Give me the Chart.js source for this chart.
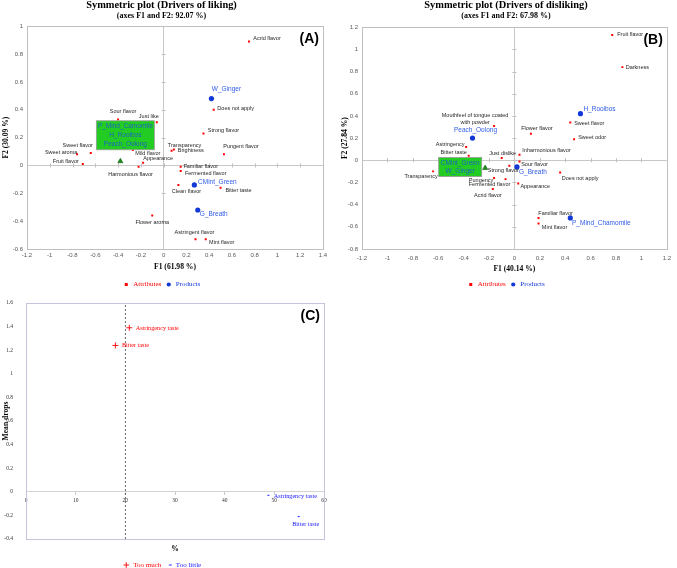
<!DOCTYPE html>
<html>
<head>
<meta charset="utf-8">
<script src="https://cdn.jsdelivr.net/npm/chart.js@4.4.0/dist/chart.umd.min.js"></script>
<style>
  body { margin: 0; background: #fff; width: 677px; height: 568px; position: relative; overflow: hidden; }
  canvas { position: absolute; }
</style>
</head>
<body>
<canvas id="chartA" width="340" height="300" style="left:0;top:0"></canvas>
<canvas id="chartB" width="337" height="300" style="left:340px;top:0"></canvas>
<canvas id="chartC" width="340" height="290" style="left:0;top:290px"></canvas>
<script>
// ---- (A) drivers of liking ----
const likAttrNames = ['Acrid flavor', 'Does not apply', 'Strong flavor', 'Sour flavor', 'Just like',
  'Sweet flavor', 'Sweet aroma', 'Fruit flavor', 'Mild flavor', 'Appearance', 'Harmonious flavor',
  'Transparency', 'Brightness', 'Pungent flavor', 'Familiar flavor', 'Fermented flavor',
  'Clean flavor', 'Bitter taste', 'Flower aroma', 'Astringent flavor', 'Mint flavor'];
const likAttrX = [0.75, 0.44, 0.35, -0.40, -0.06, -0.64, -0.76, -0.71, -0.27, -0.18, -0.22,
  0.07, 0.09, 0.53, 0.15, 0.15, 0.13, 0.50, -0.10, 0.28, 0.37];
const likAttrY = [0.89, 0.40, 0.23, 0.33, 0.31, 0.09, 0.08, 0.01, 0.11, 0.02, -0.01,
  0.105, 0.115, 0.08, -0.01, -0.04, -0.14, -0.16, -0.36, -0.53, -0.53];
const likProdNames = ['W_Ginger', 'CMint_Green', 'G_Breath'];
const likProdX = [0.42, 0.27, 0.30];
const likProdY = [0.48, -0.14, -0.32];
// products that sit on top of each other
const likGroupNames = ['P_Mind_Camomile\nH_Rooibos\nPeach_Oolong'];
const likGroupX = [-0.38];
const likGroupY = [0.03];

// ---- (B) drivers of disliking ----
const disAttrNames = ['Fruit flavor', 'Darkness', 'Sweet flavor', 'Sweet odor', 'Flower flavor',
  'Mouthfeel of tongue coated\nwith powder', 'Astringency', 'Bitter taste', 'Just dislike',
  'Inharmonious flavor', 'Sour flavor', 'Strong flavor', 'Transparency', 'Pungency',
  'Fermented flavor', 'Appearance', 'Acrid flavor', 'Does not apply', 'Familiar flavor', 'Mint flavor'];
const disAttrX = [0.77, 0.85, 0.44, 0.47, 0.13, -0.16, -0.38, -0.36, -0.10, 0.04, 0.04, -0.04,
  -0.64, -0.16, -0.07, 0.03, -0.17, 0.36, 0.19, 0.19];
const disAttrY = [1.13, 0.84, 0.34, 0.19, 0.24, 0.31, 0.12, 0.04, 0.02, 0.05, -0.01, -0.05,
  -0.10, -0.16, -0.17, -0.21, -0.26, -0.11, -0.52, -0.57];
const disProdNames = ['H_Rooibos', 'Peach_Oolong', 'G_Breath', 'P_Mind_Chamomile'];
const disProdX = [0.52, -0.33, 0.02, 0.44];
const disProdY = [0.42, 0.20, -0.06, -0.52];
const disGroupNames = ['CMint_Green\nW_Ginger'];
const disGroupX = [-0.23];
const disGroupY = [-0.07];

// ---- (C) penalty (mean drops) ----
const tooMuchNames = ['Astringency taste', 'Bitter taste'];
const tooMuchX = [20.8, 18.0];
const tooMuchY = [1.39, 1.24];
const tooLittleNames = ['Astringency taste', 'Bitter taste'];
const tooLittleX = [48.6, 54.7];
const tooLittleY = [-0.03, -0.21];
const cutoffX = [20, 20];
const cutoffY = [-0.4, 1.6];

// label placement (px from the point to the text centre)
const likAttrOffsets = [[18, -3], [22, -1], [20, -3], [5, -8], [-8, -6], [-13, -7], [-16, -2], [-17, -3],
  [15, 3], [15, -4], [-8, 8], [13, -5], [17, 1], [17, -8], [20, 0], [25, 2], [8, 7], [18, 3], [0, 7],
  [-1, -7], [16, 3]];
const likProdOffsets = [[15, -9], [23, -3], [16, 4]];
const disAttrOffsets = [[18, 0], [15, 0], [19, 1], [18, -2], [6, -5], [-19, -7], [-16, -2], [-15, -3],
  [1, -5], [27, -4], [15, 3], [-6, 5], [-12, 5], [-13, 2], [-16, 5], [17, 3], [-5, 6], [20, 6],
  [17, -4], [16, 4]];
const disProdOffsets = [[19, -4], [3, -8], [16, 5], [31, 5]];

const pts = (xs, ys) => xs.map((x, i) => ({ x: x, y: ys[i] }));
const fmt = v => (Math.round(v * 10) / 10).toString();

const SANS = '"Liberation Sans", Arial, sans-serif';
const SERIF = '"Liberation Serif", "Times New Roman", serif';
const RED = '#ff0000';
const BLUE = '#1238d8';
const BLUE_TXT = '#2f5ce6';

// text next to the points
const pointLabels = {
  id: 'pointLabels',
  afterDatasetsDraw(chart) {
    const ctx = chart.ctx;
    chart.data.datasets.forEach((ds, i) => {
      if (!ds.names) return;
      const meta = chart.getDatasetMeta(i);
      ctx.save();
      ctx.font = ds.nameFont;
      ctx.textAlign = 'center';
      ctx.textBaseline = 'middle';
      meta.data.forEach((pt, j) => {
        const off = ds.nameOffsets[j];
        const cx = pt.x + off[0], cy = pt.y + off[1];
        const lines = ds.names[j].split('\n');
        const lh = ds.nameLine || 7;
        if (ds.nameBox) {
          const b = ds.nameBox;
          ctx.fillStyle = b.fill;
          ctx.strokeStyle = b.stroke;
          ctx.lineWidth = 0.8;
          ctx.fillRect(cx - b.w / 2, cy - b.h / 2, b.w, b.h);
          ctx.strokeRect(cx - b.w / 2, cy - b.h / 2, b.w, b.h);
        }
        ctx.fillStyle = ds.nameColor;
        lines.forEach((t, k) => {
          ctx.fillText(t, cx, cy + (k - (lines.length - 1) / 2) * lh);
        });
      });
      ctx.restore();
    });
  }
};

// plot frame, small marks on the zero lines and the panel letter
const decor = {
  id: 'decor',
  beforeDatasetsDraw(chart, args, opts) {
    const { ctx, chartArea: a } = chart;
    ctx.save();
    if (opts.zeroMarks) {
      const sx = chart.scales.x, sy = chart.scales.y;
      const x0 = sx.getPixelForValue(0), y0 = sy.getPixelForValue(0);
      ctx.strokeStyle = '#bfbfbf';
      ctx.lineWidth = 1;
      ctx.beginPath();
      sx.ticks.forEach(t => {
        const px = Math.round(sx.getPixelForValue(t.value)) + 0.5;
        ctx.moveTo(px, y0 - 2); ctx.lineTo(px, y0 + 2);
      });
      sy.ticks.forEach(t => {
        const py = Math.round(sy.getPixelForValue(t.value)) + 0.5;
        ctx.moveTo(x0 - 2, py); ctx.lineTo(x0 + 2, py);
      });
      ctx.stroke();
    }
    ctx.strokeStyle = opts.frame;
    ctx.lineWidth = 1;
    ctx.strokeRect(Math.round(a.left) + 0.5, Math.round(a.top) + 0.5,
      Math.round(a.right - a.left), Math.round(a.bottom - a.top));
    ctx.fillStyle = '#000';
    ctx.font = 'bold 14px ' + SANS;
    ctx.textAlign = 'right';
    ctx.textBaseline = 'middle';
    ctx.fillText(opts.tag, a.right - 4, a.top + 13);
    ctx.restore();
  }
};

function legendLabels(chart) {
  return Chart.defaults.plugins.legend.labels.generateLabels(chart)
    .filter(l => !chart.data.datasets[l.datasetIndex].noLegend)
    .map(l => Object.assign(l, { fontColor: chart.data.datasets[l.datasetIndex].textColor }));
}

const zeroGrid = c => (c.tick && Math.abs(c.tick.value) < 1e-9) ? '#c8c8c8' : 'rgba(0,0,0,0)';
const tickFont = { family: SANS, size: 6 };
const axisTitleFont = { family: SERIF, size: 7.6, weight: 'bold' };

function symmetricPlot(canvasId, cfg) {
  return new Chart(document.getElementById(canvasId), {
    type: 'scatter',
    data: {
      datasets: [
        {
          label: 'Attributes', data: pts(cfg.attrX, cfg.attrY),
          pointStyle: 'rect', pointRadius: 1.4, backgroundColor: RED, borderColor: RED, borderWidth: 0,
          names: cfg.attrNames, nameOffsets: cfg.attrOffsets, nameFont: '5.5px ' + SANS,
          nameColor: '#262626', nameLine: 7, textColor: RED
        },
        {
          label: 'Products', data: pts(cfg.prodX, cfg.prodY),
          pointStyle: 'circle', pointRadius: 2.6, backgroundColor: BLUE, borderColor: BLUE, borderWidth: 0,
          names: cfg.prodNames, nameOffsets: cfg.prodOffsets, nameFont: '6.5px ' + SANS,
          nameColor: BLUE_TXT, textColor: BLUE
        },
        {
          label: 'Group', data: pts(cfg.groupX, cfg.groupY), noLegend: true,
          pointStyle: 'triangle', pointRadius: 3, backgroundColor: '#1c8a1c', borderColor: '#136313', borderWidth: 0.6,
          names: cfg.groupNames, nameOffsets: [cfg.groupOffset], nameFont: '6.5px ' + SANS,
          nameColor: '#1f63c4', nameLine: cfg.groupLine,
          nameBox: { fill: '#22cc22', stroke: '#9a9a9a', w: cfg.groupBox[0], h: cfg.groupBox[1] }
        }
      ]
    },
    options: {
      responsive: false,
      animation: false,
      layout: { padding: { left: 0, right: cfg.padRight, top: 0, bottom: 2 } },
      plugins: {
        title: {
          display: true, text: cfg.title, color: '#000',
          font: { family: SERIF, size: 10.4, weight: 'bold', lineHeight: 1 },
          padding: { top: 0.5, bottom: 0 }
        },
        subtitle: {
          display: true, text: cfg.subtitle, color: '#000',
          font: { family: SERIF, size: 8, weight: 'bold' },
          padding: { top: 0, bottom: cfg.subPad }
        },
        legend: {
          position: 'bottom',
          labels: {
            usePointStyle: true, boxHeight: 3, padding: 4,
            font: { family: SERIF, size: 7 }, generateLabels: legendLabels
          }
        },
        tooltip: { enabled: false },
        decor: { frame: '#bfbfbf', zeroMarks: true, tag: cfg.tag }
      },
      scales: {
        x: {
          type: 'linear', min: cfg.xMin, max: cfg.xMax,
          ticks: { stepSize: 0.2, font: tickFont, color: '#595959', padding: cfg.xTickPad, callback: fmt, maxRotation: 0, autoSkip: false },
          grid: { color: zeroGrid, drawTicks: false },
          border: { display: false },
          title: { display: true, text: cfg.xTitle, color: '#000', font: axisTitleFont, padding: { top: 0, bottom: cfg.xTitlePad } },
          afterFit: s => { s.height = 28; }
        },
        y: {
          type: 'linear', min: cfg.yMin, max: cfg.yMax,
          ticks: { stepSize: 0.2, font: tickFont, color: '#595959', padding: 4, callback: fmt, autoSkip: false },
          grid: { color: zeroGrid, drawTicks: false },
          border: { display: false },
          title: { display: true, text: cfg.yTitle, color: '#000', font: axisTitleFont, padding: { top: cfg.yTitlePad, bottom: 0 } },
          afterFit: s => { s.width = cfg.yWidth; }
        }
      }
    },
    plugins: [decor, pointLabels]
  });
}

symmetricPlot('chartA', {
  title: 'Symmetric plot (Drivers of liking)', subtitle: '(axes F1 and F2: 92.07 %)', tag: '(A)',
  xTitle: 'F1 (61.98 %)', yTitle: 'F2 (30.09 %)',
  xMin: -1.2, xMax: 1.4, yMin: -0.6, yMax: 1,
  attrNames: likAttrNames, attrX: likAttrX, attrY: likAttrY, attrOffsets: likAttrOffsets,
  prodNames: likProdNames, prodX: likProdX, prodY: likProdY, prodOffsets: likProdOffsets,
  groupNames: likGroupNames, groupX: likGroupX, groupY: likGroupY,
  groupOffset: [5, -26], groupBox: [58, 29], groupLine: 9,
  padRight: 17, subPad: 5.7, xTickPad: 3, xTitlePad: 5.4, yTitlePad: 1, yWidth: 27
});

symmetricPlot('chartB', {
  title: 'Symmetric plot (Drivers of disliking)', subtitle: '(axes F1 and F2: 67.98 %)', tag: '(B)',
  xTitle: 'F1 (40.14 %)', yTitle: 'F2 (27.84 %)',
  xMin: -1.2, xMax: 1.2, yMin: -0.8, yMax: 1.2,
  attrNames: disAttrNames, attrX: disAttrX, attrY: disAttrY, attrOffsets: disAttrOffsets,
  prodNames: disProdNames, prodX: disProdX, prodY: disProdY, prodOffsets: disProdOffsets,
  groupNames: disGroupNames, groupX: disGroupX, groupY: disGroupY,
  groupOffset: [-25, -1], groupBox: [43, 19], groupLine: 8,
  padRight: 5, subPad: 6.7, xTickPad: 6, xTitlePad: 3.4, yTitlePad: 0, yWidth: 22
});

// (C) mean drops vs % of consumers
new Chart(document.getElementById('chartC'), {
  type: 'scatter',
  data: {
    datasets: [
      {
        label: 'Too much', data: pts(tooMuchX, tooMuchY),
        pointStyle: 'cross', pointRadius: 3, borderColor: RED, backgroundColor: RED, borderWidth: 0.9,
        names: tooMuchNames, nameOffsets: [[28, 1], [20, 0]], nameFont: '6.2px ' + SERIF,
        nameColor: RED, textColor: RED
      },
      {
        label: 'Too little', data: pts(tooLittleX, tooLittleY),
        pointStyle: 'dash', pointRadius: 2, borderColor: '#2020ff', backgroundColor: '#2020ff', borderWidth: 1,
        names: tooLittleNames, nameOffsets: [[28, 1], [8, 8]], nameFont: '6.2px ' + SERIF,
        nameColor: '#2020ff', textColor: '#2020ff'
      },
      {
        label: 'cutoff', data: pts(cutoffX, cutoffY), noLegend: true, showLine: true,
        pointRadius: 0, borderColor: '#444', borderWidth: 0.8, borderDash: [2, 2]
      }
    ]
  },
  options: {
    responsive: false,
    animation: false,
    layout: { padding: { left: 0, right: 16, top: 13, bottom: 1.5 } },
    plugins: {
      legend: {
        position: 'bottom',
        labels: {
          usePointStyle: true, boxHeight: 4, padding: 4,
          font: { family: SERIF, size: 7 }, generateLabels: legendLabels
        }
      },
      tooltip: { enabled: false },
      decor: { frame: '#c4c4dc', zeroMarks: false, tag: '(C)' }
    },
    scales: {
      x: {
        type: 'linear', min: 0, max: 60, position: { y: 0 },
        ticks: { stepSize: 10, font: { family: SERIF, size: 5.5 }, color: '#333', padding: 2, maxRotation: 0 },
        grid: { drawOnChartArea: false, drawTicks: true, tickLength: 3, color: '#c8c8c8' },
        border: { color: '#d4d4d4' }
      },
      x2: {
        type: 'linear', position: 'bottom', min: 0, max: 60,
        ticks: { display: false }, grid: { display: false }, border: { display: false },
        title: { display: true, text: '%', color: '#000', font: axisTitleFont, padding: { top: 0, bottom: 3.9 } },
        afterFit: s => { s.height = 18.5; }
      },
      y: {
        type: 'linear', min: -0.4, max: 1.6,
        ticks: { stepSize: 0.2, font: { family: SERIF, size: 5.5 }, color: '#333', padding: 5, callback: fmt, autoSkip: false },
        grid: { display: false },
        border: { display: false },
        title: { display: true, text: 'Mean drops', color: '#000', font: axisTitleFont, padding: { top: 1, bottom: 0 } },
        afterFit: s => { s.width = 26; }
      }
    }
  },
  plugins: [decor, pointLabels]
});
</script>
</body>
</html>
